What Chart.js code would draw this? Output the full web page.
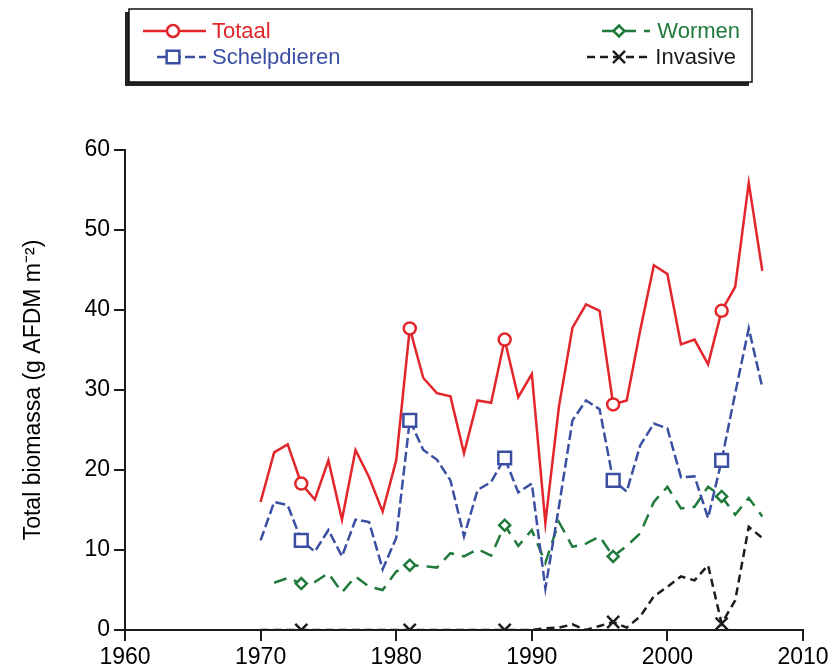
<!DOCTYPE html>
<html>
<head>
<meta charset="utf-8">
<script src="https://cdn.jsdelivr.net/npm/chart.js"></script>
<style>
  body { margin: 0; background: #fff; }
  #wrap { width: 833px; height: 672px; }
</style>
</head>
<body>
<div id="wrap"><canvas id="myChart" width="833" height="672"></canvas></div>
<script>
var years = [1970, 1971, 1972, 1973, 1974, 1975, 1976, 1977, 1978, 1979,
             1980, 1981, 1982, 1983, 1984, 1985, 1986, 1987, 1988, 1989,
             1990, 1991, 1992, 1993, 1994, 1995, 1996, 1997, 1998, 1999,
             2000, 2001, 2002, 2003, 2004, 2005, 2006, 2007];

var totaal = [16.0, 22.2, 23.2, 18.3, 16.3, 21.2, 13.8, 22.5, 19.1, 14.8,
              21.2, 37.7, 31.5, 29.6, 29.2, 22.1, 28.7, 28.4, 36.3, 29.1,
              32.0, 13.4, 27.9, 37.8, 40.7, 39.9, 28.2, 28.7, 37.5, 45.6,
              44.5, 35.7, 36.3, 33.2, 39.9, 42.9, 55.9, 44.9];

var schelpdieren = [11.2, 16.0, 15.6, 11.2, 9.8, 12.5, 9.2, 13.8, 13.5, 7.6,
                    11.5, 26.2, 22.5, 21.3, 18.7, 11.7, 17.5, 18.5, 21.5, 17.2,
                    18.3, 5.2, 15.4, 26.2, 28.7, 27.6, 18.7, 17.3, 23.1, 25.8,
                    25.2, 19.1, 19.2, 14.0, 21.2, 29.6, 37.7, 30.3];

var wormen = [null, 5.9, 6.5, 5.8, 6.0, 7.1, 4.7, 6.7, 5.4, 5.0,
              7.3, 8.1, 8.0, 7.8, 9.6, 9.2, 10.1, 9.3, 13.1, 10.5,
              12.5, 8.4, 13.5, 10.4, 10.8, 11.7, 9.2, 10.5, 12.1, 16.0,
              17.9, 15.2, 15.4, 17.9, 16.7, 14.4, 16.5, 14.2];

var invasive = [0, 0, 0, 0, 0, 0, 0, 0, 0, 0,
                0, 0, 0, 0, 0, 0, 0, 0, 0, 0,
                0, 0.2, 0.3, 0.7, 0, 0.5, 1.0, 0.3, 1.7, 4.2,
                5.4, 6.7, 6.2, 8.1, 0.8, 3.7, 12.9, 11.5];

var markerYears = [1973, 1981, 1988, 1996, 2004];
var xTicks = [1960, 1970, 1980, 1990, 2000, 2010];
var yTicks = [0, 10, 20, 30, 40, 50, 60];

var red = "#e3262b", blue = "#3b4fa2", green = "#1f7a3b", black = "#1c1c1c";
var font = "'Liberation Sans', Arial, sans-serif";

function points(values) {
  return years.map(function (y, i) { return {x: y, y: values[i]}; });
}

function radii(r) {
  return years.map(function (y) { return markerYears.indexOf(y) >= 0 ? r : 0; });
}

var series = [
  {label: "Totaal", data: totaal, color: red, dash: [], style: "circle", r: 6},
  {label: "Schelpdieren", data: schelpdieren, color: blue, dash: [10, 4], style: "rect", r: 9},
  {label: "Wormen", data: wormen, color: green, dash: [13, 8], style: "rectRot", r: 5.5},
  {label: "Invasive", data: invasive, color: black, dash: [8, 5], style: "crossRot", r: 8.5}
];

// legend box drawn on the canvas, two columns like the original
var boxLegend = {
  id: "boxLegend",
  afterDraw: function (chart) {
    var ctx = chart.ctx;
    ctx.save();
    ctx.fillStyle = "#222";
    ctx.fillRect(125, 12, 624, 74);
    ctx.fillStyle = "#fff";
    ctx.fillRect(129, 9, 623, 73);
    ctx.strokeStyle = "#111";
    ctx.lineWidth = 1.5;
    ctx.strokeRect(129, 9, 623, 73);

    var items = [
      {s: series[0], x1: 143, x2: 206, mx: 173, y: 31, tx: 212, align: "left"},
      {s: series[1], x1: 157, x2: 206, mx: 173, y: 57, tx: 212, align: "left"},
      {s: series[2], x1: 602, x2: 650, mx: 619, y: 31, tx: 740, align: "right"},
      {s: series[3], x1: 587, x2: 650, mx: 619, y: 57, tx: 736, align: "right"}
    ];
    items.forEach(function (it) {
      ctx.strokeStyle = it.s.color;
      ctx.lineWidth = 2.5;
      ctx.setLineDash(it.s.dash);
      ctx.beginPath();
      ctx.moveTo(it.x1, it.y);
      ctx.lineTo(it.x2, it.y);
      ctx.stroke();
      ctx.setLineDash([]);
      ctx.fillStyle = "#fff";
      Chart.helpers.drawPoint(ctx, {pointStyle: it.s.style, radius: it.s.r, borderWidth: 2.5, rotation: 0}, it.mx, it.y);
      ctx.fillStyle = it.s.color;
      ctx.font = "22px " + font;
      ctx.textAlign = it.align;
      ctx.textBaseline = "middle";
      ctx.fillText(it.s.label, it.tx, it.y + 1);
    });
    ctx.restore();
  }
};

new Chart("myChart", {
  type: "line",
  data: {
    datasets: series.map(function (s) {
      return {
        label: s.label,
        data: points(s.data),
        borderColor: s.color,
        borderWidth: 2.5,
        borderDash: s.dash,
        backgroundColor: "#fff",
        pointBackgroundColor: "#fff",
        pointBorderColor: s.color,
        pointBorderWidth: 2.5,
        pointStyle: s.style,
        pointRadius: radii(s.r),
        pointHoverRadius: radii(s.r),
        tension: 0,
        fill: false,
        spanGaps: false
      };
    })
  },
  options: {
    responsive: false,
    animation: false,
    events: [],
    layout: {padding: {top: 150, left: 14, right: 30, bottom: 0}},
    plugins: {
      legend: {display: false},
      tooltip: {enabled: false}
    },
    scales: {
      x: {
        type: "linear",
        min: 1960,
        max: 2010,
        afterBuildTicks: function (scale) {
          scale.ticks = xTicks.map(function (v) { return {value: v}; });
        },
        afterFit: function (scale) { scale.height = 42; },
        grid: {display: true, drawOnChartArea: false, drawTicks: true, tickLength: 11, color: black, lineWidth: 2},
        border: {display: true, color: black, width: 2},
        ticks: {
          color: "#000",
          padding: 3,
          maxRotation: 0,
          font: {family: font, size: 23},
          callback: function (v) { return String(v); }
        }
      },
      y: {
        min: 0,
        max: 60,
        afterBuildTicks: function (scale) {
          scale.ticks = yTicks.map(function (v) { return {value: v}; });
        },
        afterFit: function (scale) { scale.width = 125 - 14; },
        grid: {display: true, drawOnChartArea: false, drawTicks: true, tickLength: 11, color: black, lineWidth: 2},
        border: {display: true, color: black, width: 2},
        title: {
          display: true,
          text: "Total biomassa (g AFDM m\u207B\u00B2)",
          color: "#000",
          padding: {top: 6, bottom: 0},
          font: {family: font, size: 23}
        },
        ticks: {
          color: "#000",
          padding: 4,
          font: {family: font, size: 23}
        }
      }
    }
  },
  plugins: [boxLegend]
});
</script>
</body>
</html>
